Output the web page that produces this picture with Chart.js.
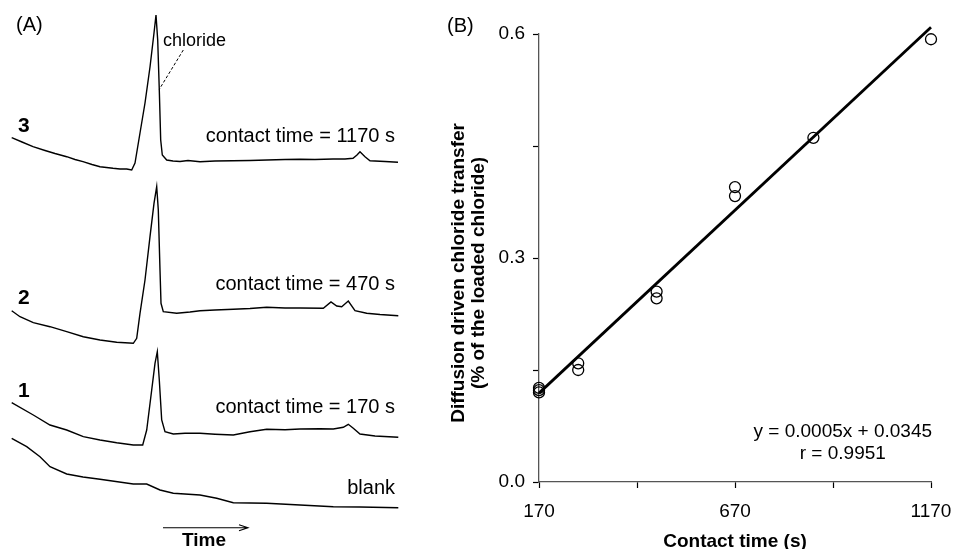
<!DOCTYPE html>
<html><head><meta charset="utf-8">
<script src="https://cdn.jsdelivr.net/npm/chart.js@4/dist/chart.umd.min.js"></script>
<style>
html,body{margin:0;padding:0;background:#fff;}
#wrap{position:relative;width:954px;height:549px;overflow:hidden;background:#fff;}
#ca{position:absolute;left:0;top:0;}
#cb{position:absolute;left:430px;top:0;}
</style></head><body>
<div id="wrap"><canvas id="ca" width="430" height="549"></canvas><canvas id="cb" width="524" height="549"></canvas></div>
<script>
// ---------------- Panel A: electropherograms (time in arbitrary units, detector response in arbitrary units) ----------------
const trace3Time   = [11.7,22,33,45,55,66.7,75,83,92,100,113,120,126.7,131.7,135,140,145,150,154,156,157.7,159.3,160.7,162.3,166.7,173,180,188,200,215,233,250,267,285,300,315,333,345,353,357,360,365,370,385,398];
const trace3Signal = [382.3,378,373.3,369.5,366.5,363.3,360.5,358.3,355.5,353.3,351.7,351,351,350,357,387,417,453,487,505,480,430,380,365,360,359,358.5,359.5,358.3,359,359.3,359.5,360,360.5,360.7,360.5,361,361,361.7,365,368.3,363.3,359.3,358.5,357.7];

const trace2Time   = [11.7,20,33.3,50,66.7,83.3,100,116.7,133.3,136.7,140,145,150,154,156.7,158.3,160,161,163.3,176.7,190,200,215,233.3,250,266.7,285,300,323.3,331,336.7,341.7,348.3,355,366.7,380,398.3];
const trace2Signal = [209.3,203.3,197.3,193.3,188.3,183.3,180,177.7,176.7,181.7,206.7,240,283.3,316.7,333.3,310,250,216.7,208.3,206.7,208,209.3,210,210.7,211.5,212.7,212,212,211.7,218,214,213.3,219,209.3,206.7,205.5,204.3];

const trace1Time   = [11.7,33.3,50,66.7,83.3,100,116.7,133.3,142.7,146.7,151.7,155,157.3,159.3,161.7,165,173.3,185,200,215,233.3,250,266.7,285,300,320,333.3,343.3,348.3,353.3,360,375,398.3];
const trace1Signal = [117.3,105,95,90,83.3,80,77.3,75,75,90,130,156.7,168.3,140,100,88.3,86,86.8,86.7,85.8,85,88.3,90.7,90.2,91,91.3,91,92.7,95.7,91.7,86,84,82.7];

const blankTime   = [11.7,26.7,40,50,66.7,83,100,133.3,146.7,160,173.3,200,216.7,233.3,266.7,300,333.3,360,398.3];
const blankSignal = [81.7,73.3,63.3,53.3,46,43,40.7,36,36,30,26.7,25,21.7,17.3,16.7,15,13.3,13,12.3];

// ---------------- Panel B: diffusion-driven chloride transfer ----------------
const contactTimes = [170,170,170,270,270,470,470,670,670,870,1170];
const transferPct  = [0.126,0.123,0.120,0.159,0.150,0.255,0.246,0.395,0.383,0.461,0.593];
const fitTimes  = [170,1170];
const fitValues = [0.119,0.609];
const xTickValues = [170,420,670,920,1170];
const xTickLabels = ['170','','670','','1170'];
const yTickValues = [0,0.15,0.3,0.45,0.6];
const yTickLabels = ['0.0','','0.3','','0.6'];

const FONT = '"Liberation Sans", Arial, Helvetica, sans-serif';
Chart.defaults.font.family = FONT;
Chart.defaults.color = '#000';

const zip = (a,b) => a.map((v,i)=>({x:v,y:b[i]}));

// ---- panel A annotations (positions in panel A data units) ----
const panelALabels = [
  {text:'(A)', t:16, r:495, align:'left', font:'20px'},
  {text:'chloride', t:163, r:479, align:'left', font:'18px'},
  {text:'3', t:18, r:394, align:'left', font:'bold 21px'},
  {text:'contact time = 1170 s', t:395, r:384, align:'right', font:'20px'},
  {text:'2', t:18, r:222, align:'left', font:'bold 21px'},
  {text:'contact time = 470 s', t:395, r:236, align:'right', font:'20px'},
  {text:'1', t:18, r:128.5, align:'left', font:'bold 21px'},
  {text:'contact time = 170 s', t:395, r:112.5, align:'right', font:'20px'},
  {text:'blank', t:395, r:32, align:'right', font:'20px'},
  {text:'Time', t:204, r:-20.7, align:'center', font:'bold 19px'}
];
const chlorideLeader = {from:[183.3,470], to:[159.3,430.7]};
const timeArrow = {from:[163,-7.7], to:[248,-7.7]};

const annoA = {
  id:'annoA',
  afterDraw(chart){
    const {ctx, scales:{x,y}} = chart;
    ctx.save();
    ctx.fillStyle = '#000';
    ctx.textBaseline = 'middle';
    panelALabels.forEach(l=>{
      ctx.font = l.font + ' ' + FONT;
      ctx.textAlign = l.align;
      ctx.fillText(l.text, x.getPixelForValue(l.t), y.getPixelForValue(l.r));
    });
    ctx.strokeStyle = '#000';
    ctx.lineWidth = 1;
    ctx.setLineDash([3,2]);
    ctx.beginPath();
    ctx.moveTo(x.getPixelForValue(chlorideLeader.from[0]), y.getPixelForValue(chlorideLeader.from[1]));
    ctx.lineTo(x.getPixelForValue(chlorideLeader.to[0]), y.getPixelForValue(chlorideLeader.to[1]));
    ctx.stroke();
    ctx.setLineDash([]);
    const x0 = x.getPixelForValue(timeArrow.from[0]), x1 = x.getPixelForValue(timeArrow.to[0]);
    const ya = y.getPixelForValue(timeArrow.from[1]);
    ctx.lineWidth = 1.1;
    ctx.beginPath();
    ctx.moveTo(x0, ya); ctx.lineTo(x1, ya);
    ctx.moveTo(x1-9, ya-3); ctx.lineTo(x1, ya); ctx.lineTo(x1-9, ya+3);
    ctx.stroke();
    ctx.restore();
  }
};

const traceStyle = {borderColor:'#000', borderWidth:1.4, pointRadius:0, tension:0, fill:false, clip:false};
new Chart(document.getElementById('ca'), {
  type:'line',
  data:{datasets:[
    Object.assign({label:'3', data:zip(trace3Time,trace3Signal)}, traceStyle),
    Object.assign({label:'2', data:zip(trace2Time,trace2Signal)}, traceStyle),
    Object.assign({label:'1', data:zip(trace1Time,trace1Signal)}, traceStyle),
    Object.assign({label:'blank', data:zip(blankTime,blankSignal)}, traceStyle)
  ]},
  options:{
    responsive:false, animation:false, events:[],
    layout:{padding:0},
    plugins:{legend:{display:false}, tooltip:{enabled:false}},
    scales:{
      x:{type:'linear', display:false, min:0, max:430},
      y:{type:'linear', display:false, min:-29, max:520}
    }
  },
  plugins:[annoA]
});

// ---- panel B annotations ----
const fitText = ['y = 0.0005x + 0.0345', 'r = 0.9951'];
const fitTextPos = [{t:945, v:0.067}, {t:945, v:0.038}];
const yTitleLines = ['Diffusion driven chloride transfer', '(% of the loaded chloride)'];
const yTitleCenterValue = 0.28;
const annoB = {
  id:'annoB',
  afterDraw(chart){
    const {ctx, scales:{x,y}} = chart;
    ctx.save();
    ctx.fillStyle = '#000';
    ctx.textBaseline = 'middle';
    ctx.font = '20px ' + FONT;
    ctx.textAlign = 'left';
    ctx.fillText('(B)', 17, 26);
    ctx.font = '19px ' + FONT;
    ctx.textAlign = 'center';
    fitText.forEach((s,i)=>ctx.fillText(s, x.getPixelForValue(fitTextPos[i].t), y.getPixelForValue(fitTextPos[i].v)));
    const cy = y.getPixelForValue(yTitleCenterValue);
    ctx.font = 'bold 19px ' + FONT;
    yTitleLines.forEach((s,i)=>{
      ctx.save();
      ctx.translate(y.left + 29 + i*20, cy);
      ctx.rotate(-Math.PI/2);
      ctx.fillText(s, 0, 0);
      ctx.restore();
    });
    ctx.restore();
  }
};

new Chart(document.getElementById('cb'), {
  type:'scatter',
  data:{datasets:[
    {type:'line', label:'fit', data:zip(fitTimes,fitValues), borderColor:'#000', borderWidth:2.8, pointRadius:0, clip:false, order:1},
    {type:'scatter', label:'data', data:zip(contactTimes,transferPct), pointStyle:'circle', pointRadius:5.5,
     pointBorderWidth:1.3, pointBorderColor:'#000', pointBackgroundColor:'rgba(0,0,0,0)', showLine:false, clip:false, order:0}
  ]},
  options:{
    responsive:false, animation:false, events:[],
    layout:{padding:{left:0, top:34, right:23, bottom:0}},
    plugins:{legend:{display:false}, tooltip:{enabled:false}},
    scales:{
      x:{type:'linear', min:170, max:1170,
        afterBuildTicks:s=>{s.ticks = xTickValues.map(v=>({value:v}));},
        afterFit:s=>{s.height = 67; s.paddingLeft = 0; s.paddingRight = 0;},
        ticks:{callback:(v,i)=>xTickLabels[i], font:{size:19}, color:'#000', padding:12, maxRotation:0, autoSkip:false},
        grid:{drawOnChartArea:false, drawTicks:true, tickLength:6, tickColor:'#000', tickWidth:1.2},
        border:{display:true, color:'#555', width:1.3},
        title:{display:true, text:'Contact time (s)', color:'#000', font:{size:19, weight:'bold', lineHeight:0.8}, padding:0}
      },
      y:{type:'linear', min:0, max:0.6,
        afterBuildTicks:s=>{s.ticks = yTickValues.map(v=>({value:v}));},
        afterFit:s=>{s.width = 109; s.paddingTop = 0; s.paddingBottom = 0;},
        ticks:{callback:(v,i)=>yTickLabels[i], font:{size:19}, color:'#000', padding:8, autoSkip:false},
        grid:{drawOnChartArea:false, drawTicks:true, tickLength:6, tickColor:'#000', tickWidth:1.2},
        border:{display:true, color:'#555', width:1.3},
        title:{display:false}
      }
    }
  },
  plugins:[annoB]
});
</script>
</body></html>
